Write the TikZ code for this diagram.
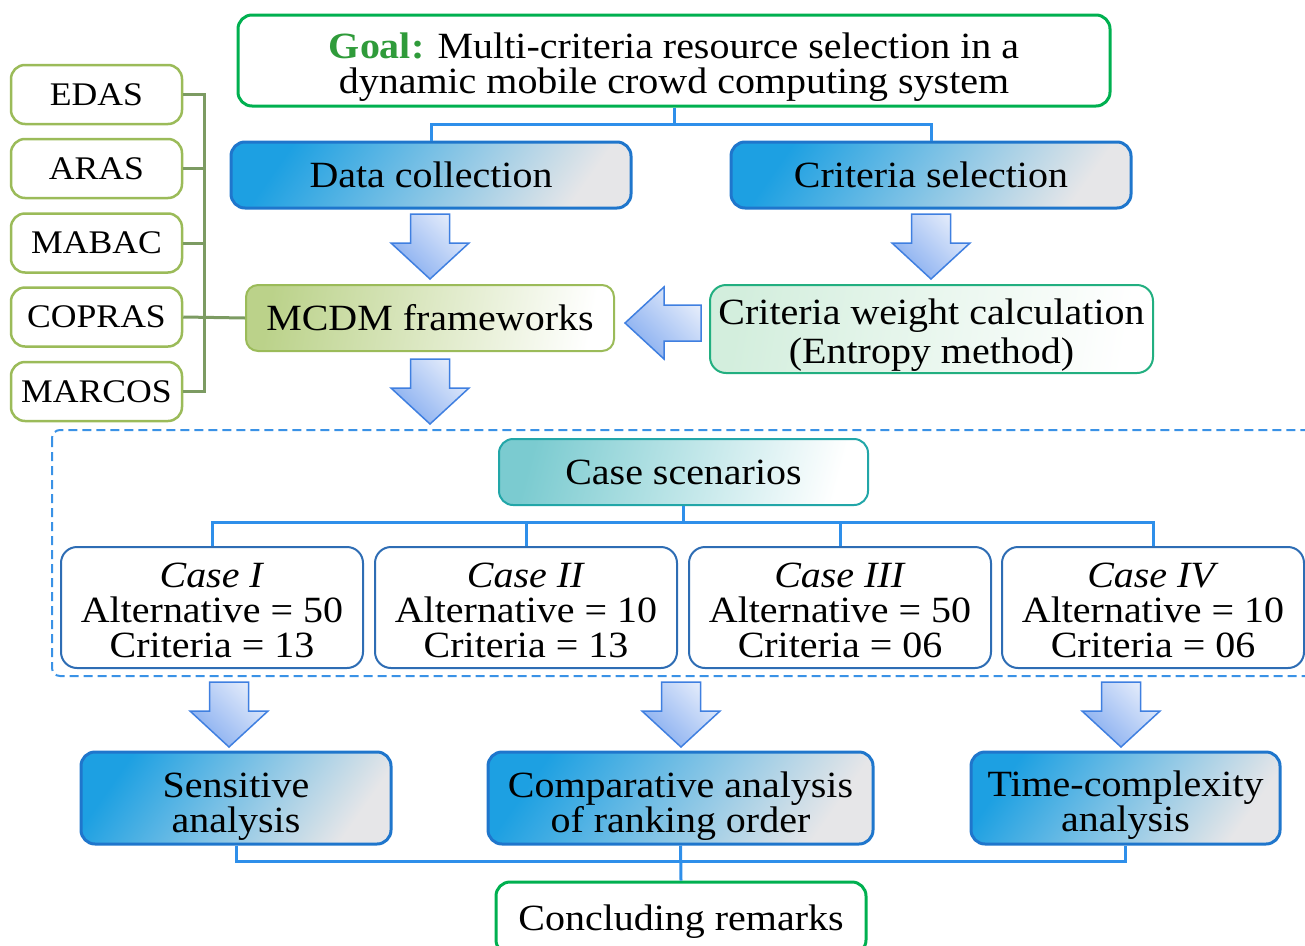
\documentclass[tikz,border=0pt]{standalone}
\usepackage{fontspec}
\setmainfont{Liberation Serif}[FakeStretch=1.08]
\usepackage{tikz}
\usetikzlibrary{calc}
\definecolor{goalgreen}{HTML}{00B050}
\definecolor{goaltext}{HTML}{2F9B3A}
\definecolor{boxblue}{HTML}{1F76CC}
\definecolor{blueleft}{HTML}{1DA0E2}
\definecolor{bluemid}{HTML}{6CBDE6}
\definecolor{blueright}{HTML}{E6E6E8}
\definecolor{olive}{HTML}{9BBB59}
\definecolor{olivefill}{HTML}{BBD28A}
\definecolor{bracketgreen}{HTML}{7C9B62}
\definecolor{mint}{HTML}{22AF80}
\definecolor{mintfill}{HTML}{D3EEDD}
\definecolor{teal}{HTML}{22A6A8}
\definecolor{tealfill}{HTML}{7BCBD0}
\definecolor{caseblue}{HTML}{2E6DB4}
\definecolor{linkblue}{HTML}{2E8FEA}
\definecolor{dashblue}{HTML}{3A92E6}
\definecolor{arrowedge}{HTML}{3F7FE0}
\definecolor{arrowdark}{HTML}{86ADF0}
\definecolor{arrowlight}{HTML}{E4ECFB}
\tikzset{
x=1pt, y=-1pt, % one unit is one pixel of the sketch
every node/.style={align=center, inner sep=0pt, font=\fontsize{37}{35}\selectfont},
goalbox/.style={draw=goalgreen, line width=3pt, rounded corners=14pt, fill=white}, % goal and remarks
stagebox/.style={draw=boxblue, line width=3pt, rounded corners=14pt, left color=blueleft, middle color=bluemid, right color=blueright, shading angle=55},
methodbox/.style={draw=olive, line width=2.5pt, rounded corners=14pt, fill=white, minimum width=171, minimum height=59, font=\fontsize{33}{35}\selectfont},
casebox/.style={draw=caseblue, line width=2pt, rounded corners=16pt, fill=white, minimum width=302, minimum height=121, text height=100pt, text depth=0pt},
link/.style={draw=linkblue, line width=3pt},
bracket/.style={draw=bracketgreen, line width=3pt},
blockarrow/.style={draw=arrowedge, line width=1.5pt, left color=arrowdark, right color=arrowlight, shading angle=135},
downarrow/.pic={
  \path[blockarrow] (-19.5,0) -- (19.5,0) -- (19.5,29) -- (39,29) -- (0,65) -- (-39,29) -- (-19.5,29) -- cycle;
},
leftarrow/.pic={
  \path[blockarrow] (0,-18) -- (0,18) -- (-37,18) -- (-37,36) -- (-76,0) -- (-37,-36) -- (-37,-18) -- cycle;
},
}
\begin{document}
\begin{tikzpicture}
\clip (0,0) rectangle (1305,945);

% goal and first stage
\node[goalbox, minimum width=872, minimum height=91, text height=66pt, text depth=0pt] (goal) at (674,60.5)
  {{\color{goaltext}\bfseries Goal:} Multi-criteria resource selection in a\\dynamic mobile crowd computing system};
\node[stagebox, minimum width=400, minimum height=66] (data) at (431,175) {Data collection};
\node[stagebox, minimum width=400, minimum height=66] (crit) at (931,175) {Criteria selection};
\draw[link] (goal.south) -- ++(0,17) -| (data.north);
\draw[link] (goal.south) -- ++(0,17) -| (crit.north);

\pic at (430,214) {downarrow};
\pic at (931,214) {downarrow};

\node[draw=olive, line width=2pt, rounded corners=12pt, left color=olivefill, right color=white, shading angle=80,
  minimum width=368, minimum height=66] (mcdm) at (430,318) {MCDM frameworks};
\node[draw=mint, line width=2pt, rounded corners=16pt, left color=mintfill, right color=white, shading angle=80,
  minimum width=443, minimum height=88, text height=68pt, text depth=0pt, font=\fontsize{37}{39}\selectfont] (weight) at (931.5,329)
  {Criteria weight calculation\\(Entropy method)};
\pic at (701,323) {leftarrow};

% MCDM methods
\node[methodbox] (edas) at (96.5,94.5) {EDAS};
\node[methodbox] (aras) at (96.5,168.5) {ARAS};
\node[methodbox] (mabac) at (96.5,243) {MABAC};
\node[methodbox] (copras) at (96.5,317) {COPRAS};
\node[methodbox] (marcos) at (96.5,391.5) {MARCOS};
\coordinate (spine) at (204,317);
\draw[bracket] (edas.east) -| (spine);
\draw[bracket] (marcos.east) -| (spine);
\draw[bracket] (aras.east) -- (aras.east -| spine);
\draw[bracket] (mabac.east) -- (mabac.east -| spine);
\draw[bracket] (copras.east) -- (mcdm.west);

\pic at (430,359) {downarrow};

% case scenarios
\draw[dashblue, line width=2pt, dash pattern=on 9pt off 5pt, rounded corners=8pt] (52,430) rectangle (1340,676);
\node[draw=teal, line width=2pt, rounded corners=14pt, left color=tealfill, right color=white, shading angle=75,
  minimum width=369, minimum height=66] (scen) at (683.5,472) {Case scenarios};
\node[casebox] (c1) at (212,607.5) {\textit{Case I}\\Alternative = 50\\Criteria = 13};
\node[casebox] (c2) at (526,607.5) {\textit{Case II}\\Alternative = 10\\Criteria = 13};
\node[casebox] (c3) at (840,607.5) {\textit{Case III}\\Alternative = 50\\Criteria = 06};
\node[casebox] (c4) at (1153,607.5) {\textit{Case IV}\\Alternative = 10\\Criteria = 06};
\foreach \c in {c1,c2,c3,c4}
  \draw[link] (scen.south) -- ++(0,16) -| (\c.north);

\pic at (229,682) {downarrow};
\pic at (681,682) {downarrow};
\pic at (1121,682) {downarrow};

% analyses and remarks
\node[stagebox, minimum width=310, minimum height=92, text height=69pt, text depth=0pt] (sens) at (236,798) {Sensitive\\analysis};
\node[stagebox, minimum width=385, minimum height=92, text height=68pt, text depth=0pt] (comp) at (680.5,798) {Comparative analysis\\of ranking order};
\node[stagebox, minimum width=309, minimum height=92, text height=66pt, text depth=0pt] (time) at (1125.5,798) {Time-complexity\\analysis};
\node[goalbox, minimum width=370, minimum height=72, text depth=0pt] (remarks) at (681,918) {Concluding remarks};
\draw[link] (sens.south) -- ++(0,16) -| (time.south);
\draw[link] (comp.south) -- (remarks.north);
\end{tikzpicture}
\end{document}
